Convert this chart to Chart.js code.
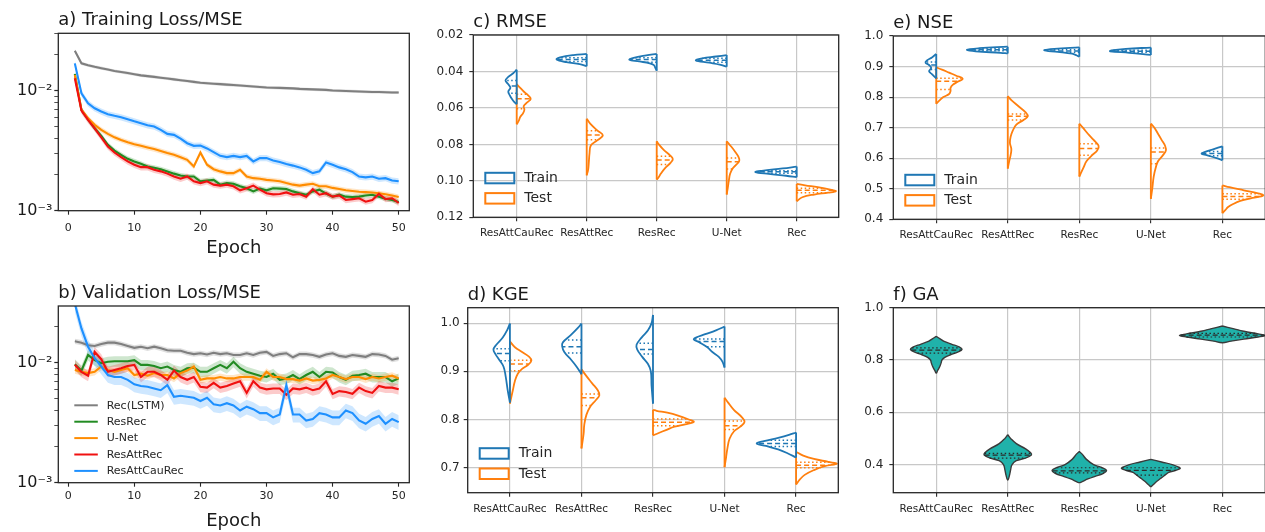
<!DOCTYPE html>
<html>
<head>
<meta charset="utf-8">
<script src="https://cdn.jsdelivr.net/npm/chart.js@4.4.1/dist/chart.umd.min.js"></script>
<style>
  body { margin: 0; background: #fff; width: 1265px; height: 532px; overflow: hidden; position: relative; }
  canvas { position: absolute; }
</style>
</head>
<body>
<canvas id="panelA"></canvas>
<canvas id="panelB"></canvas>
<canvas id="panelC"></canvas>
<canvas id="panelD"></canvas>
<canvas id="panelE"></canvas>
<canvas id="panelF"></canvas>
<script>
// ---- data: loss curves (epochs 1..50) ----
const epochs = Array.from({length: 50}, (_, i) => i + 1);
const seriesNames = ['Rec(LSTM)', 'ResRec', 'U-Net', 'ResAttRec', 'ResAttCauRec'];

const trainRec = [0.0217,0.0170,0.0164,0.0159,0.0155,0.0151,0.0147,0.0144,0.0141,0.0138,
  0.0135,0.0133,0.0131,0.0129,0.0127,0.0125,0.0123,0.0121,0.0119,0.0117,
  0.0116,0.0115,0.0114,0.0113,0.0112,0.0111,0.0110,0.0109,0.0108,0.0107,
  0.01065,0.0106,0.01055,0.0105,0.0104,0.01035,0.0103,0.01025,0.0102,0.0101,
  0.01005,0.0100,0.00995,0.0099,0.00985,0.0098,0.0098,0.00975,0.0097,0.0097];
const trainResRec = [0.0139,0.00695,0.0058,0.00488,0.00422,0.00355,0.00318,0.00293,0.00271,0.00258,
  0.00247,0.00234,0.00228,0.00222,0.00213,0.00204,0.00197,0.00193,0.00193,0.00176,
  0.00179,0.00181,0.00165,0.0017,0.00168,0.0016,0.00154,0.00145,0.00153,0.00148,
  0.00154,0.00153,0.00152,0.00145,0.0014,0.00136,0.00145,0.0015,0.00139,0.00131,
  0.00136,0.00131,0.0013,0.00131,0.00134,0.00136,0.00131,0.00126,0.00123,0.00118];
const trainUNet = [0.0136,0.00695,0.00592,0.00521,0.00473,0.00438,0.0041,0.0039,0.00373,0.00359,
  0.00348,0.00337,0.00327,0.00315,0.00303,0.00293,0.0028,0.00266,0.00234,0.00306,
  0.00242,0.00222,0.00213,0.00206,0.00206,0.0022,0.00193,0.00187,0.00185,0.00181,
  0.00179,0.00176,0.0017,0.00165,0.00162,0.00165,0.00168,0.0016,0.0016,0.00155,
  0.00152,0.00148,0.00146,0.00144,0.00143,0.00142,0.0014,0.00137,0.00134,0.0013];
const trainResAttRec = [0.01276,0.00686,0.00573,0.00488,0.0041,0.00344,0.00306,0.0028,0.00258,0.00242,
  0.00231,0.00231,0.0022,0.00213,0.00204,0.00193,0.00185,0.00193,0.00176,0.0017,
  0.00176,0.00165,0.00162,0.00165,0.0016,0.00148,0.00154,0.00162,0.0015,0.0014,
  0.00137,0.00138,0.00142,0.00136,0.00138,0.00131,0.00151,0.00136,0.0014,0.00131,
  0.00134,0.00123,0.00125,0.00127,0.00119,0.00123,0.00138,0.00125,0.00127,0.00116];
const trainResAttCauRec = [0.0170,0.00956,0.00789,0.00717,0.00673,0.0064,0.0062,0.00603,0.00581,0.00558,
  0.00538,0.00517,0.00504,0.00473,0.00438,0.0043,0.0040,0.00366,0.00348,0.0035,
  0.00331,0.00308,0.00287,0.0028,0.00287,0.0028,0.00287,0.00258,0.00275,0.00275,
  0.00263,0.00255,0.00245,0.00238,0.0023,0.0022,0.00206,0.00213,0.00253,0.00242,
  0.0023,0.00222,0.0021,0.00193,0.0019,0.00193,0.00185,0.00187,0.00179,0.00176];

const valRec = [0.0151,0.0147,0.0140,0.0138,0.0143,0.0147,0.0147,0.0143,0.0138,0.0133,
  0.0136,0.0132,0.0136,0.0132,0.0127,0.0126,0.0126,0.0121,0.0118,0.0120,
  0.0117,0.0121,0.0118,0.0120,0.0116,0.0116,0.0120,0.0116,0.0121,0.0123,
  0.0114,0.0118,0.0120,0.0111,0.0118,0.0118,0.0116,0.0112,0.0117,0.0120,
  0.0114,0.0112,0.0116,0.0114,0.0112,0.0118,0.0117,0.0114,0.0106,0.0109];
const valResRec = [0.0097,0.0086,0.0116,0.0105,0.0099,0.0102,0.0103,0.0103,0.0103,0.0105,
  0.0096,0.0096,0.0094,0.0090,0.0093,0.0087,0.0084,0.0090,0.0091,0.0084,
  0.0084,0.0090,0.0096,0.0090,0.0102,0.0090,0.0084,0.0081,0.0078,0.0076,
  0.0081,0.0072,0.0074,0.0079,0.0073,0.0079,0.0084,0.0076,0.0084,0.0083,
  0.0076,0.0072,0.0078,0.0079,0.0081,0.0076,0.0076,0.0076,0.0070,0.0074];
const valUNet = [0.0087,0.0084,0.0082,0.0084,0.0093,0.0087,0.0084,0.0087,0.0090,0.0079,
  0.0081,0.0078,0.0082,0.0079,0.0079,0.0074,0.0082,0.0086,0.0093,0.0072,
  0.0074,0.0074,0.0076,0.0074,0.0074,0.0076,0.0076,0.0076,0.0072,0.0084,
  0.0076,0.0076,0.0073,0.0073,0.0071,0.0074,0.0071,0.0072,0.0074,0.0079,
  0.0076,0.0073,0.0076,0.0076,0.0073,0.0076,0.0074,0.0076,0.0078,0.0074];
const valResAttRec = [0.0096,0.0084,0.0078,0.0123,0.0107,0.0084,0.0087,0.0090,0.0094,0.0096,
  0.0076,0.0084,0.0084,0.0079,0.0072,0.0086,0.0076,0.0072,0.0076,0.0063,
  0.0062,0.0068,0.0062,0.0064,0.0067,0.0070,0.0056,0.0070,0.0062,0.0060,
  0.0061,0.0061,0.0054,0.0061,0.0060,0.0062,0.0059,0.0061,0.0070,0.0055,
  0.0058,0.0057,0.0055,0.0062,0.0058,0.0056,0.0064,0.0062,0.0062,0.0060];
const valResAttCauRec = [0.031,0.0193,0.0136,0.0109,0.0093,0.0079,0.0076,0.0076,0.0072,0.0066,
  0.0064,0.0063,0.0061,0.0059,0.0065,0.0052,0.0053,0.0052,0.0051,0.0048,
  0.0051,0.0045,0.0044,0.0046,0.0044,0.0040,0.0043,0.0041,0.0038,0.0038,
  0.0035,0.0037,0.0065,0.0037,0.0037,0.0033,0.0034,0.0038,0.0037,0.0035,
  0.0035,0.0040,0.0038,0.0033,0.0031,0.0034,0.0036,0.0031,0.0034,0.0032];

// relative half-width of the shaded spread around each curve
const trainSpread = [0.03, 0.05, 0.05, 0.06, 0.06];
const valSpread = [0.05, 0.10, 0.07, 0.10, 0.14];

// ---- data: violins, [value, half width] outlines and quartiles ----
const models = ['ResAttCauRec', 'ResAttRec', 'ResRec', 'U-Net', 'Rec'];
const splitNames = ['Train', 'Test'];

const rmseTrain = [
  [[0.039,0],[0.041,0.05],[0.043,0.12],[0.045,0.16],[0.047,0.12],[0.049,0.09],[0.051,0.12],[0.053,0.10],[0.055,0.07],[0.057,0.03],[0.058,0]],
  [[0.0304,0],[0.0310,0.19],[0.0323,0.38],[0.0334,0.43],[0.0349,0.29],[0.0360,0.10],[0.0371,0]],
  [[0.0304,0],[0.0312,0.15],[0.0325,0.33],[0.0336,0.39],[0.0345,0.25],[0.0355,0.10],[0.0365,0.04],[0.038,0.02],[0.0396,0]],
  [[0.0310,0],[0.0318,0.15],[0.0328,0.35],[0.0340,0.44],[0.0352,0.25],[0.0362,0.10],[0.0374,0]],
  [[0.0922,0],[0.0932,0.2],[0.0945,0.5],[0.0952,0.59],[0.0962,0.4],[0.0972,0.15],[0.098,0]]
];
const rmseTrainQ = [[0.045,0.048,0.052],[0.0325,0.0334,0.0345],[0.0325,0.0335,0.035],[0.0328,0.0338,0.035],[0.0945,0.095,0.0958]];
const rmseTest = [
  [[0.047,0],[0.049,0.05],[0.051,0.10],[0.053,0.16],[0.055,0.20],[0.057,0.15],[0.059,0.10],[0.061,0.11],[0.063,0.09],[0.065,0.05],[0.067,0.03],[0.069,0]],
  [[0.0659,0],[0.0686,0.05],[0.0723,0.15],[0.075,0.23],[0.0778,0.15],[0.0805,0.06],[0.085,0.04],[0.09,0.03],[0.094,0.02],[0.097,0]],
  [[0.0783,0],[0.080,0.03],[0.083,0.10],[0.086,0.19],[0.088,0.23],[0.090,0.20],[0.093,0.12],[0.096,0.06],[0.0985,0.02],[0.0993,0]],
  [[0.0783,0],[0.081,0.06],[0.084,0.12],[0.087,0.17],[0.089,0.18],[0.091,0.14],[0.093,0.09],[0.096,0.05],[0.100,0.03],[0.104,0.015],[0.1075,0]],
  [[0.1017,0],[0.1025,0.12],[0.1035,0.3],[0.1048,0.48],[0.1057,0.56],[0.1065,0.45],[0.1075,0.25],[0.109,0.08],[0.1112,0]]
];
const rmseTestQ = [[0.0525,0.055,0.0605],[0.0725,0.0748,0.0775],[0.0865,0.0885,0.091],[0.0875,0.0895,0.0935],[0.104,0.1052,0.1065]];

const kgeTrain = [
  [[0.999,0],[0.985,0.04],[0.97,0.10],[0.955,0.19],[0.945,0.23],[0.935,0.2],[0.924,0.15],[0.91,0.09],[0.89,0.06],[0.86,0.03],[0.835,0]],
  [[0.999,0],[0.99,0.05],[0.975,0.15],[0.96,0.26],[0.952,0.27],[0.94,0.24],[0.925,0.15],[0.91,0.07],[0.894,0]],
  [[1.017,0],[1.0,0.02],[0.985,0.07],[0.97,0.16],[0.955,0.23],[0.945,0.22],[0.93,0.15],[0.915,0.07],[0.9,0.03],[0.87,0.02],[0.833,0]],
  [[0.993,0],[0.985,0.12],[0.977,0.27],[0.97,0.40],[0.966,0.43],[0.96,0.35],[0.95,0.24],[0.94,0.17],[0.93,0.08],[0.92,0.03],[0.908,0]],
  [[0.773,0],[0.768,0.1],[0.762,0.25],[0.755,0.45],[0.75,0.55],[0.745,0.42],[0.738,0.25],[0.73,0.12],[0.721,0]]
];
const kgeTrainQ = [[0.922,0.937,0.947],[0.938,0.951,0.965],[0.936,0.945,0.958],[0.951,0.962,0.967],[0.744,0.75,0.757]];
const kgeTest = [
  [[0.962,0],[0.95,0.07],[0.94,0.17],[0.93,0.27],[0.922,0.30],[0.913,0.25],[0.905,0.17],[0.895,0.11],[0.88,0.07],[0.86,0.04],[0.833,0]],
  [[0.904,0],[0.89,0.07],[0.875,0.15],[0.86,0.23],[0.85,0.25],[0.84,0.2],[0.826,0.12],[0.81,0.07],[0.79,0.04],[0.77,0.03],[0.74,0]],
  [[0.82,0],[0.818,0.05],[0.814,0.2],[0.808,0.35],[0.8,0.5],[0.795,0.57],[0.79,0.45],[0.785,0.3],[0.778,0.18],[0.772,0.08],[0.767,0]],
  [[0.845,0],[0.835,0.05],[0.82,0.13],[0.805,0.24],[0.795,0.28],[0.785,0.22],[0.775,0.13],[0.76,0.07],[0.74,0.04],[0.72,0.02],[0.701,0]],
  [[0.733,0],[0.725,0.1],[0.718,0.25],[0.712,0.45],[0.708,0.57],[0.703,0.4],[0.695,0.25],[0.685,0.12],[0.675,0.05],[0.665,0]]
];
const kgeTestQ = [[0.901,0.915,0.923],[0.829,0.845,0.853],[0.787,0.794,0.801],[0.779,0.787,0.797],[0.700,0.705,0.711]];

const nseTrain = [
  [[0.941,0],[0.93,0.06],[0.92,0.13],[0.913,0.15],[0.905,0.1],[0.895,0.07],[0.885,0.1],[0.875,0.06],[0.861,0]],
  [[0.965,0],[0.96,0.4],[0.955,0.57],[0.95,0.45],[0.945,0.1],[0.943,0]],
  [[0.963,0],[0.958,0.35],[0.953,0.49],[0.948,0.3],[0.942,0.1],[0.937,0.04],[0.932,0]],
  [[0.962,0],[0.958,0.35],[0.953,0.55],[0.95,0.57],[0.945,0.3],[0.938,0]],
  [[0.639,0],[0.63,0.12],[0.62,0.25],[0.615,0.29],[0.61,0.22],[0.6,0.08],[0.593,0]]
];
const nseTrainQ = [[0.89,0.905,0.915],[0.952,0.955,0.958],[0.947,0.951,0.955],[0.947,0.95,0.953],[0.608,0.615,0.622]];
const nseTest = [
  [[0.897,0],[0.89,0.08],[0.88,0.18],[0.87,0.28],[0.86,0.37],[0.85,0.3],[0.84,0.23],[0.83,0.2],[0.82,0.2],[0.81,0.18],[0.8,0.1],[0.79,0.05],[0.778,0]],
  [[0.803,0],[0.79,0.05],[0.77,0.15],[0.75,0.25],[0.737,0.28],[0.725,0.22],[0.71,0.12],[0.69,0.07],[0.67,0.04],[0.65,0.03],[0.63,0.05],[0.61,0.04],[0.59,0.02],[0.566,0]],
  [[0.713,0],[0.7,0.05],[0.68,0.12],[0.66,0.2],[0.64,0.27],[0.625,0.25],[0.61,0.18],[0.59,0.1],[0.57,0.06],[0.55,0.02],[0.54,0]],
  [[0.713,0],[0.7,0.05],[0.68,0.1],[0.66,0.15],[0.64,0.2],[0.625,0.21],[0.61,0.17],[0.59,0.1],[0.57,0.07],[0.54,0.04],[0.5,0.02],[0.467,0]],
  [[0.511,0],[0.505,0.1],[0.495,0.3],[0.485,0.5],[0.478,0.57],[0.47,0.42],[0.46,0.25],[0.45,0.15],[0.44,0.08],[0.43,0.04],[0.42,0]]
];
const nseTestQ = [[0.825,0.852,0.862],[0.725,0.737,0.745],[0.61,0.632,0.647],[0.582,0.62,0.633],[0.466,0.475,0.484]];

const gaShape = [
  [[0.89,0],[0.88,0.06],[0.87,0.12],[0.86,0.22],[0.85,0.32],[0.84,0.36],[0.83,0.3],[0.82,0.2],[0.81,0.12],[0.8,0.08],[0.79,0.07],[0.775,0.05],[0.76,0.02],[0.75,0]],
  [[0.514,0],[0.5,0.04],[0.48,0.12],[0.46,0.25],[0.445,0.32],[0.437,0.33],[0.425,0.25],[0.415,0.12],[0.4,0.06],[0.38,0.04],[0.36,0.025],[0.341,0]],
  [[0.45,0],[0.44,0.04],[0.42,0.1],[0.4,0.2],[0.39,0.3],[0.378,0.38],[0.365,0.33],[0.355,0.22],[0.345,0.12],[0.335,0.04],[0.331,0]],
  [[0.42,0],[0.41,0.15],[0.4,0.3],[0.39,0.39],[0.385,0.41],[0.378,0.35],[0.37,0.25],[0.36,0.2],[0.35,0.15],[0.335,0.08],[0.32,0.02],[0.316,0]],
  [[0.93,0],[0.92,0.15],[0.91,0.3],[0.9,0.5],[0.894,0.6],[0.888,0.5],[0.88,0.3],[0.872,0.12],[0.866,0]]
];
const gaQ = [[0.826,0.838,0.846],[0.425,0.436,0.443],[0.368,0.376,0.388],[0.36,0.378,0.388],[0.888,0.895,0.902]];

// ---- styles ----
const seriesColors = ['#7f7f7f', '#228b22', '#ff8c00', '#f01010', '#1e90ff'];
const bandColors = ['rgba(127,127,127,0.25)', 'rgba(34,139,34,0.22)', 'rgba(255,140,0,0.22)', 'rgba(240,16,16,0.22)', 'rgba(30,144,255,0.22)'];
const splitColors = ['#1f77b4', '#ff7f0e'];
const FONT = '"DejaVu Sans", sans-serif';
const INK = '#262626';

Chart.defaults.font.family = FONT;
Chart.defaults.color = INK;

// frame, panel title and in-axes legend
const decor = {
  id: 'decor',
  afterDraw(chart, args, opts) {
    const ctx = chart.ctx, a = chart.chartArea;
    ctx.save();
    ctx.lineWidth = 1.3;
    ctx.strokeStyle = INK;
    ctx.strokeRect(a.left, a.top, a.right - a.left, a.bottom - a.top);
    ctx.fillStyle = '#1a1a1a';
    ctx.font = '18px ' + FONT;
    ctx.textAlign = 'left';
    ctx.textBaseline = 'alphabetic';
    ctx.fillText(opts.title, a.left, a.top - 8);
    ctx.textBaseline = 'middle';
    if (opts.legend === 'lines') {
      ctx.font = '11px ' + FONT;
      seriesNames.forEach((name, k) => {
        const y = a.bottom - 77.4 + k * 16.4;
        ctx.strokeStyle = seriesColors[k];
        ctx.lineWidth = 2;
        ctx.beginPath(); ctx.moveTo(a.left + 16, y); ctx.lineTo(a.left + 39.5, y); ctx.stroke();
        ctx.fillStyle = INK;
        ctx.fillText(name, a.left + 48.4, y + 0.5);
      });
    }
    if (opts.legend === 'violin') {
      ctx.font = '14px ' + FONT;
      splitNames.forEach((name, k) => {
        const y = a.bottom - 44.5 + k * 20.3;
        ctx.strokeStyle = splitColors[k];
        ctx.lineWidth = 2;
        ctx.strokeRect(a.left + 12, y, 29, 10.5);
        ctx.fillStyle = INK;
        ctx.fillText(name, a.left + 51, y + 5.5);
      });
    }
    ctx.restore();
  }
};
Chart.register(decor);

// put a canvas on the page and pin its plot area to the given rectangle
function place(id, box, area) {
  const cv = document.getElementById(id);
  cv.width = box.w; cv.height = box.h;
  cv.style.left = box.x + 'px'; cv.style.top = box.y + 'px';
  cv.style.width = box.w + 'px'; cv.style.height = box.h + 'px';
  return {
    cv,
    padding: {top: area.T - box.y, right: box.x + box.w - area.R, bottom: 0, left: 0},
    yFit: s => { s.width = area.L - box.x; },
    xFit: s => { s.height = box.y + box.h - area.B; }
  };
}

function baseOptions(p, title, legend) {
  return {
    responsive: false, animation: false, events: [], devicePixelRatio: 1,
    layout: {padding: p.padding},
    plugins: {legend: {display: false}, tooltip: {enabled: false}, decor: {title, legend}}
  };
}

// log axis helpers
const SUP = {'-': '\u207B', '0': '\u2070', '1': '\u00B9', '2': '\u00B2', '3': '\u00B3', '4': '\u2074'};
function isDecade(v) {
  const e = Math.log10(v);
  return Math.abs(e - Math.round(e)) < 1e-6;
}
function powLabel(v) {
  if (!isDecade(v)) return '';
  return '10' + String(Math.round(Math.log10(v))).split('').map(ch => SUP[ch]).join('');
}
function keepIntegerSteps(scale) {
  scale.ticks = scale.ticks.filter(t => {
    const m = t.value / Math.pow(10, Math.floor(Math.log10(t.value) + 1e-9));
    return Math.abs(m - Math.round(m)) < 1e-6;
  });
}

function lossChart(id, box, area, title, values, spreads, opt) {
  const p = place(id, box, area);
  const datasets = [];
  values.forEach((vals, k) => {
    const pts = f => vals.map((v, i) => ({x: epochs[i], y: f(v)}));
    datasets.push({data: pts(v => v * (1 - spreads[k])), borderWidth: 0, pointRadius: 0, fill: false, order: 30 - k});
    datasets.push({data: pts(v => v * (1 + spreads[k])), borderWidth: 0, pointRadius: 0, fill: '-1',
      backgroundColor: bandColors[k], order: 30 - k});
    datasets.push({label: seriesNames[k], data: pts(v => v), borderColor: seriesColors[k], borderWidth: 2.1,
      pointRadius: 0, fill: false, tension: 0, order: 10 - k});
  });
  const options = baseOptions(p, title, opt.legend);
  options.scales = {
    x: {
      type: 'linear', min: -1.5, max: 51.6, afterFit: p.xFit,
      grid: {drawOnChartArea: false, tickLength: 4, tickColor: INK, tickWidth: 1.1},
      border: {display: false},
      ticks: {stepSize: 10, includeBounds: false, font: {size: 11}, color: INK, padding: opt.xPad, maxRotation: 0},
      title: {display: true, text: 'Epoch', font: {size: 18}, color: '#1a1a1a', padding: {top: 0, bottom: opt.titlePad}}
    },
    y: {
      type: 'logarithmic', min: 0.001, max: opt.ymax, afterFit: p.yFit, afterBuildTicks: keepIntegerSteps,
      grid: {drawOnChartArea: false, tickLength: 4, tickColor: INK,
        tickWidth: c => (c.tick && isDecade(c.tick.value) ? 1.2 : 0.8)},
      border: {display: false},
      ticks: {callback: powLabel, autoSkip: false, font: {size: 16}, color: '#1a1a1a', padding: 2}
    }
  };
  return new Chart(p.cv, {type: 'line', data: {datasets}, options});
}

// half width of a violin outline at a given value
function widthAt(prof, v) {
  for (let i = 0; i < prof.length - 1; i++) {
    const [v0, w0] = prof[i], [v1, w1] = prof[i + 1];
    if ((v - v0) * (v - v1) <= 0 && v0 !== v1) return w0 + (w1 - w0) * (v - v0) / (v1 - v0);
  }
  return 0;
}

const lineBase = {showLine: true, pointRadius: 0, fill: false};

function halfViolin(pos, prof, quart, side, color) {
  const out = [];
  out.push({...lineBase, data: prof.map(([v, w]) => ({x: pos + side * w, y: v})),
    borderColor: color, borderWidth: 1.8, tension: 0.4});
  out.push({...lineBase, data: [{x: pos, y: prof[0][0]}, {x: pos, y: prof[prof.length - 1][0]}],
    borderColor: color, borderWidth: 1.8});
  quart.forEach((q, j) => out.push({...lineBase,
    data: [{x: pos, y: q}, {x: pos + side * widthAt(prof, q), y: q}],
    borderColor: color, borderWidth: 1.5, borderDash: j === 1 ? [5, 3] : [1.5, 2.5]}));
  return out;
}

function fullViolin(pos, prof, quart) {
  const left = prof.map(([v, w]) => ({x: pos - w, y: v}));
  const right = prof.slice().reverse().map(([v, w]) => ({x: pos + w, y: v}));
  const out = [{...lineBase, data: left.concat(right.slice(1)), fill: 'shape', backgroundColor: '#20b2aa',
    borderColor: '#3a3a3a', borderWidth: 1.4, tension: 0.4, order: 5}];
  quart.forEach((q, j) => {
    const w = widthAt(prof, q);
    out.push({...lineBase, data: [{x: pos - w, y: q}, {x: pos + w, y: q}],
      borderColor: '#2a2a2a', borderWidth: 1.2, borderDash: j === 1 ? [5, 3] : [1.5, 2.5], order: 1});
  });
  return out;
}

function violinChart(id, box, area, title, yOpt, xRange, datasets, legend) {
  const p = place(id, box, area);
  const options = baseOptions(p, title, legend);
  const grid = {color: '#c8c8c8', lineWidth: 1.2, tickLength: 4, tickColor: INK, tickWidth: 1.1};
  options.scales = {
    x: {
      type: 'linear', min: xRange[0], max: xRange[1], afterFit: p.xFit, grid, border: {display: false},
      ticks: {stepSize: 1, includeBounds: false, autoSkip: false, maxRotation: 0, font: {size: 10.5}, color: INK, padding: 6,
        callback: v => models[Math.round(v)] ?? ''}
    },
    y: {
      min: yOpt.min, max: yOpt.max, reverse: !!yOpt.reverse, afterFit: p.yFit, grid, border: {display: false},
      ticks: {stepSize: yOpt.step, includeBounds: false, autoSkip: false, font: {size: 12}, color: INK, padding: yOpt.pad,
        callback: v => Number(v).toFixed(yOpt.dec)}
    }
  };
  return new Chart(p.cv, {type: 'scatter', data: {datasets}, options});
}

function splitSets(train, trainQ, test, testQ) {
  const ds = [];
  models.forEach((m, i) => {
    ds.push(...halfViolin(i, train[i], trainQ[i], -1, splitColors[0]));
    ds.push(...halfViolin(i, test[i], testQ[i], 1, splitColors[1]));
  });
  return ds;
}

// ---- panels ----
lossChart('panelA', {x: 0, y: 0, w: 420, h: 266}, {L: 58.3, T: 33.3, R: 409.3, B: 210.7},
  'a) Training Loss/MSE', [trainRec, trainResRec, trainUNet, trainResAttRec, trainResAttCauRec], trainSpread,
  {ymax: 0.0303, xPad: 7, titlePad: 7, legend: null});

lossChart('panelB', {x: 0, y: 266, w: 420, h: 266}, {L: 58.3, T: 306, R: 409.3, B: 482.7},
  'b) Validation Loss/MSE', [valRec, valResRec, valUNet, valResAttRec, valResAttCauRec], valSpread,
  {ymax: 0.0297, xPad: 3, titlePad: 0, legend: 'lines'});

violinChart('panelC', {x: 420, y: 0, w: 420, h: 266}, {L: 473.3, T: 35, R: 838.7, B: 217.3}, 'c) RMSE',
  {min: 0.02, max: 0.12, reverse: true, step: 0.02, dec: 2, pad: 6}, [-0.62, 4.6],
  splitSets(rmseTrain, rmseTrainQ, rmseTest, rmseTestQ), 'violin');

violinChart('panelD', {x: 420, y: 266, w: 420, h: 266}, {L: 467.7, T: 307.7, R: 838.3, B: 492.7}, 'd) KGE',
  {min: 0.648, max: 1.032, step: 0.1, dec: 1, pad: 4}, [-0.59, 4.59],
  splitSets(kgeTrain, kgeTrainQ, kgeTest, kgeTestQ), 'violin');

violinChart('panelE', {x: 840, y: 0, w: 430, h: 266}, {L: 893.3, T: 36, R: 1265.3, B: 219.3}, 'e) NSE',
  {min: 0.4, max: 1.0, step: 0.1, dec: 1, pad: 6}, [-0.6, 4.6],
  splitSets(nseTrain, nseTrainQ, nseTest, nseTestQ), 'violin');

const gaSets = [];
models.forEach((m, i) => gaSets.push(...fullViolin(i, gaShape[i], gaQ[i])));
violinChart('panelF', {x: 840, y: 266, w: 430, h: 266}, {L: 893.3, T: 307.7, R: 1265.3, B: 492.7}, 'f) GA',
  {min: 0.2925, max: 1.0, step: 0.2, dec: 1, pad: 6}, [-0.6, 4.6], gaSets, null);
</script>
</body>
</html>
